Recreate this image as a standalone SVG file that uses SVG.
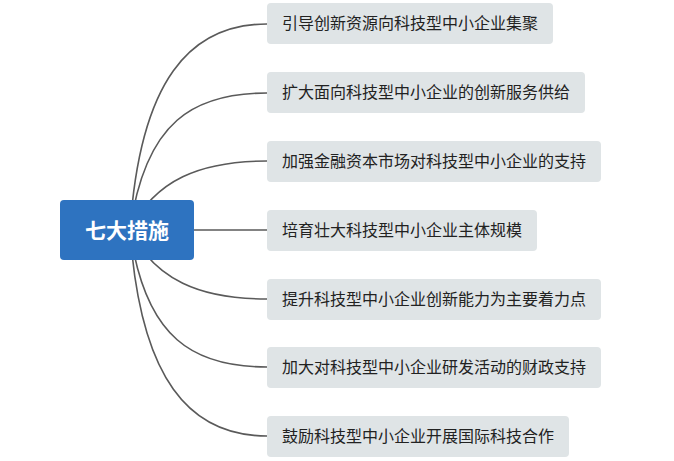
<svg xmlns="http://www.w3.org/2000/svg" width="674" height="461" viewBox="0 0 674 461">
<style>
.c{fill:none;stroke:#5a5a5a;stroke-width:1.6}
.b{fill:#dfe4e6}
.t{font-family:"Noto Sans CJK SC",sans-serif;font-size:16px;fill:#222}
</style>
<rect width="674" height="461" fill="#fff"/>
<g id="connectors">
<path class="c" d="M130 230 C140 80 190 24 267 24"/>
<path class="c" d="M130 230 C145 120 195 93 267 93"/>
<path class="c" d="M130 230 C155 180 200 161 267 161"/>
<path class="c" d="M130 230 L267 230"/>
<path class="c" d="M130 230 C155 280 200 299 267 299"/>
<path class="c" d="M130 230 C145 340 195 367 267 367"/>
<path class="c" d="M130 230 C140 380 190 436 267 436"/>
</g>
<g id="root"><rect x="60" y="200" width="134" height="60" rx="4" fill="#2e73c0"/><text x="127" y="238" text-anchor="middle" font-family="Noto Sans CJK SC,sans-serif" font-size="21" font-weight="bold" fill="#fff">七大措施</text></g>
<g id="n1"><rect class="b" x="267" y="3" width="286" height="41" rx="4"/><text class="t" x="282" y="29">引导创新资源向科技型中小企业集聚</text></g>
<g id="n2"><rect class="b" x="267" y="72" width="318" height="41" rx="4"/><text class="t" x="282" y="98">扩大面向科技型中小企业的创新服务供给</text></g>
<g id="n3"><rect class="b" x="267" y="141" width="334" height="41" rx="4"/><text class="t" x="282" y="167">加强金融资本市场对科技型中小企业的支持</text></g>
<g id="n4"><rect class="b" x="267" y="210" width="270" height="41" rx="4"/><text class="t" x="282" y="236">培育壮大科技型中小企业主体规模</text></g>
<g id="n5"><rect class="b" x="267" y="279" width="334" height="41" rx="4"/><text class="t" x="282" y="305">提升科技型中小企业创新能力为主要着力点</text></g>
<g id="n6"><rect class="b" x="267" y="347" width="334" height="41" rx="4"/><text class="t" x="282" y="373">加大对科技型中小企业研发活动的财政支持</text></g>
<g id="n7"><rect class="b" x="267" y="416" width="302" height="41" rx="4"/><text class="t" x="282" y="442">鼓励科技型中小企业开展国际科技合作</text></g>
</svg>
